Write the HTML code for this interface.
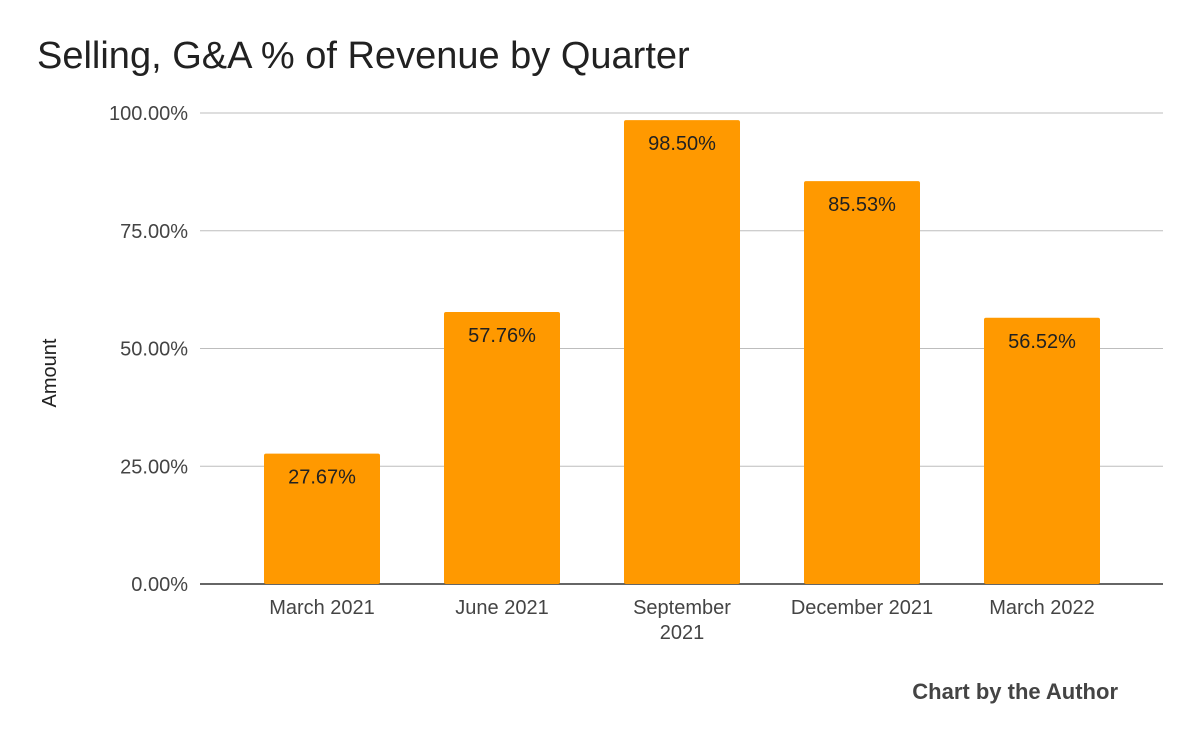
<!DOCTYPE html>
<html><head><meta charset="utf-8">
<style>
html,body{margin:0;padding:0;background:#fff;}
body{width:1200px;height:742px;overflow:hidden;font-family:"Liberation Sans",Roboto,sans-serif;}
svg text{font-family:"Liberation Sans",sans-serif;}
</style></head>
<body>
<svg id="chart" width="1200" height="742" xmlns="http://www.w3.org/2000/svg">
<text x="37" y="68" font-size="38" fill="#212121">Selling, G&amp;A % of Revenue by Quarter</text>
<text transform="translate(56,373) rotate(-90)" text-anchor="middle" font-size="20" fill="#212121">Amount</text>
<text x="1118" y="699" text-anchor="end" font-size="22" font-weight="bold" fill="#444">Chart by the Author</text>
<g id="grid"></g>
<g id="bars"></g>
<g id="xlabels"></g>
</svg>
<script>
const categories = [["March 2021"],["June 2021"],["September","2021"],["December 2021"],["March 2022"]];
const values = [27.67, 57.76, 98.50, 85.53, 56.52];
const valueLabels = ["27.67%","57.76%","98.50%","85.53%","56.52%"];
const ticks = [0,25,50,75,100];
const tickLabels = ["0.00%","25.00%","50.00%","75.00%","100.00%"];

const NS="http://www.w3.org/2000/svg";
const y0=584, yTop=113, yMax=100;
const y = v => y0 - (v/yMax)*(y0-yTop);
const band=180, firstCenter=322, barW=116;
const x = i => firstCenter + i*band;
function mk(tag, attrs, parent, text){
  const e=document.createElementNS(NS,tag);
  for(const k in attrs) e.setAttribute(k, attrs[k]);
  if(text!==undefined) e.textContent=text;
  parent.appendChild(e); return e;
}
const grid=document.getElementById('grid');
ticks.forEach((t,i)=>{
  const l=mk('line',{x1:200,x2:1163,y1:y(t),y2:y(t),stroke:t===0?'#333':'#bdbdbd','stroke-width':t===0?1.5:1},grid);
  
  
  const tx=mk('text',{x:188,y:y(t)+7,'text-anchor':'end','font-size':20,fill:'#444'},grid,tickLabels[i]);
  
  
});
const bars=document.getElementById('bars');
const xl=document.getElementById('xlabels');
values.forEach((v,i)=>{
  const r=mk('rect',{x:x(i)-barW/2,y:y(v),width:barW,height:y0-y(v),fill:'#ff9900',rx:2},bars);
  
  
  const t=mk('text',{x:x(i),y:y(v)+30,'text-anchor':'middle','font-size':20,fill:'#212121'},bars,valueLabels[i]);
  
  
  categories[i].forEach((line,j)=>{
    const c=mk('text',{x:x(i),y:614+j*25,'text-anchor':'middle','font-size':20,fill:'#444'},xl,line);
    
    
  });
});
</script>
</body></html>
